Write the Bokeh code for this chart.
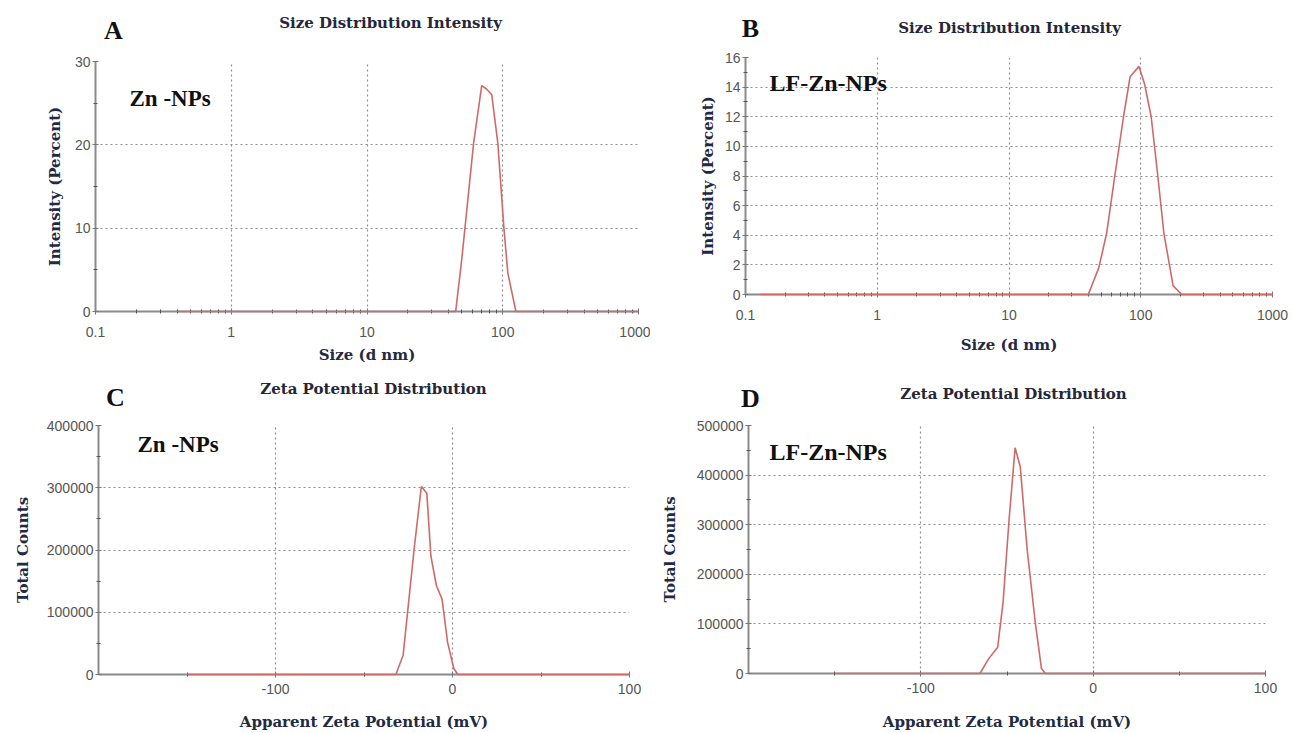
from bokeh.plotting import figure
from bokeh.layouts import row, column
from bokeh.models import Range1d, FixedTicker, PrintfTickFormatter, Label
from bokeh.embed import file_html
from bokeh.resources import INLINE

# ---- data ----
size_a = [0.4, 45, 50, 61, 70, 76, 83, 92, 102, 109, 125, 1000]
int_a = [0, 0, 6.4, 20.2, 27.1, 26.7, 26.0, 20.2, 10.0, 4.6, 0, 0]

size_b = [0.13, 40, 48, 55, 64, 74, 83, 97, 107, 120, 134, 150, 176, 204, 1000]
int_b = [0, 0, 1.8, 4.1, 8.2, 12.0, 14.7, 15.4, 14.2, 12.0, 8.2, 4.1, 0.6, 0, 0]

zeta_c = [-150, -32, -27.9, -21.5, -17.6, -14.5, -12.2, -9.1, -5.9, -2.8, 0.7, 3.0, 100]
counts_c = [0, 0, 31000, 206000, 302000, 291000, 190000, 143000, 121000, 52000, 10000, 0, 0]

zeta_d = [-150, -65.7, -60.6, -55.4, -52.3, -48.8, -45.3, -42.3, -38.3, -33.6, -30.0, -27.7, 100]
counts_d = [0, 0, 30000, 53000, 143000, 310000, 455000, 417000, 250000, 103000, 10000, 0, 0]

size_ticks = [0.1, 1, 10, 100, 1000]
size_minor = [m * d for d in (0.1, 1, 10, 100) for m in range(2, 10)]
zeta_ticks = [-100, 0, 100]
zeta_minor = [-150, -50, 50]

titles = ["Size Distribution Intensity", "Size Distribution Intensity",
          "Zeta Potential Distribution", "Zeta Potential Distribution"]
letters = ["A", "B", "C", "D"]
samples = ["Zn -NPs", "LF-Zn-NPs", "Zn -NPs", "LF-Zn-NPs"]
xlabels = ["Size (d nm)", "Size (d nm)", "Apparent Zeta Potential (mV)", "Apparent Zeta Potential (mV)"]
ylabels = ["Intensity (Percent)", "Intensity (Percent)", "Total Counts", "Total Counts"]

SERIF = "Liberation Serif"
WIDE_SERIF = "DejaVu Serif"
SANS = "Liberation Sans"
LABEL_COL = "#1f2a44"
LINE_COL = "#cf6a6a"


def header(spec, i):
    x0, y0, w, _ = spec["fig"]
    hh = spec["head"]
    hf = figure(width=w, height=hh, x_range=Range1d(0, w), y_range=Range1d(0, hh),
                output_backend="svg", toolbar_location=None,
                x_axis_location=None, y_axis_location=None,
                min_border_left=0, min_border_right=0, min_border_top=0, min_border_bottom=0)
    hf.frame_align = False
    hf.outline_line_color = None
    hf.xgrid.visible = False
    hf.ygrid.visible = False

    def put(px, py, text, size, font, color):
        hf.add_layout(Label(x=px - x0, y=y0 + hh - py, x_units="screen", y_units="screen",
                            text=text, text_font=font, text_font_style="bold",
                            text_font_size=size, text_align="center",
                            text_baseline="middle", text_color=color))

    tx, ty = spec["title"]
    put(tx, ty, titles[i], "15px", WIDE_SERIF, "#26263a")
    lx, ly = spec["letter"]
    put(lx, ly, letters[i], "26px", SERIF, "#111111")
    return hf


def make_panel(spec, xs, ys, xtype, xr, yr, xt, xm, yt, ym, i):
    x0, y0, w, h = spec["fig"]
    hh = spec["head"]
    y0p = y0 + hh
    hp = h - hh
    l, r, t, b = spec["frame"]
    p = figure(width=w, height=hp, x_axis_type=xtype,
               x_range=Range1d(*xr), y_range=Range1d(*yr),
               output_backend="svg", toolbar_location=None,
               min_border_left=l - x0, min_border_right=x0 + w - r,
               min_border_top=t - y0p, min_border_bottom=y0p + hp - b)
    p.frame_align = False
    p.outline_line_color = None
    p.background_fill_color = "white"
    p.border_fill_color = "white"

    p.xaxis.ticker = FixedTicker(ticks=xt, minor_ticks=xm)
    p.yaxis.ticker = FixedTicker(ticks=yt, minor_ticks=ym)
    p.xaxis.formatter = PrintfTickFormatter(format="%g")
    p.yaxis.formatter = PrintfTickFormatter(format="%d")

    for ax in (p.xaxis, p.yaxis):
        ax.axis_line_color = "#8a8a8a"
        ax.axis_line_width = 2
        ax.major_tick_line_color = "#777777"
        ax.minor_tick_line_color = "#555555"
        ax.major_tick_in = 3
        ax.major_tick_out = 3
        ax.minor_tick_in = 2
        ax.minor_tick_out = 2
        ax.major_label_text_font = SANS
        ax.major_label_text_font_size = "14px"
        ax.major_label_text_color = "#555555"
        ax.axis_label_text_font = WIDE_SERIF
        ax.axis_label_text_font_style = "bold"
        ax.axis_label_text_font_size = "15px"
        ax.axis_label_text_color = LABEL_COL

    p.xaxis.axis_label = xlabels[i]
    p.yaxis.axis_label = ylabels[i]
    p.xaxis.major_label_standoff = spec["xls"]
    p.xaxis.axis_label_standoff = spec["xas"]
    p.yaxis.major_label_standoff = 2
    p.yaxis.axis_label_standoff = spec["yas"]

    p.xgrid.ticker = FixedTicker(ticks=xt)
    p.ygrid.ticker = FixedTicker(ticks=yt)
    for g in (p.xgrid, p.ygrid):
        g.grid_line_color = "#8f8f8f"
        g.grid_line_dash = "2 3"
        g.grid_line_width = 1.2

    ln = p.line(xs, ys, line_color=LINE_COL, line_width=1.6)
    ln.level = "overlay"

    sx, sy = spec["sample"]
    p.add_layout(Label(x=sx - l, y=b - sy, x_units="screen", y_units="screen",
                       text=samples[i], text_font=SERIF, text_font_style="bold",
                       text_font_size=spec["ssize"], text_align="left",
                       text_baseline="middle", text_color="#111111"))
    return column(header(spec, i), p, spacing=0)


spec_a = dict(fig=(0, 0, 650, 370), head=46, frame=(95, 638, 61, 311), xls=12, xas=6, yas=8,
              title=(390, 22), letter=(113, 30), sample=(129, 98), ssize="23px")
spec_b = dict(fig=(650, 0, 642, 370), head=44, frame=(745, 1272, 57, 294), xls=12, xas=13, yas=5,
              title=(1009, 27), letter=(750, 28), sample=(769, 82), ssize="24px")
spec_c = dict(fig=(0, 370, 650, 363), head=44, frame=(98, 629, 425, 677), xls=6, xas=16, yas=12,
              title=(373, 388), letter=(115, 397), sample=(137, 447), ssize="23px")
spec_d = dict(fig=(650, 370, 642, 363), head=45, frame=(748, 1265, 425, 677), xls=6, xas=17, yas=15,
              title=(1013, 393), letter=(750, 398), sample=(769, 455), ssize="24px")

pa = make_panel(spec_a, size_a, int_a, "log", (0.1, 1000), (0, 30), size_ticks, size_minor,
                [0, 10, 20, 30], [5, 15, 25], 0)
pb = make_panel(spec_b, size_b, int_b, "log", (0.1, 1000), (0, 16), size_ticks, size_minor,
                list(range(0, 17, 2)), list(range(1, 16, 2)), 1)
pc = make_panel(spec_c, zeta_c, counts_c, "linear", (-200, 100), (0, 400000), zeta_ticks, zeta_minor,
                [0, 100000, 200000, 300000, 400000], [50000, 150000, 250000, 350000], 2)
pd = make_panel(spec_d, zeta_d, counts_d, "linear", (-200, 100), (0, 500000), zeta_ticks, zeta_minor,
                [0, 100000, 200000, 300000, 400000, 500000], [50000, 150000, 250000, 350000, 450000], 3)

layout = column(row(pa, pb, spacing=0), row(pc, pd, spacing=0), spacing=0)
open("out.html", "w").write(file_html(layout, INLINE))
